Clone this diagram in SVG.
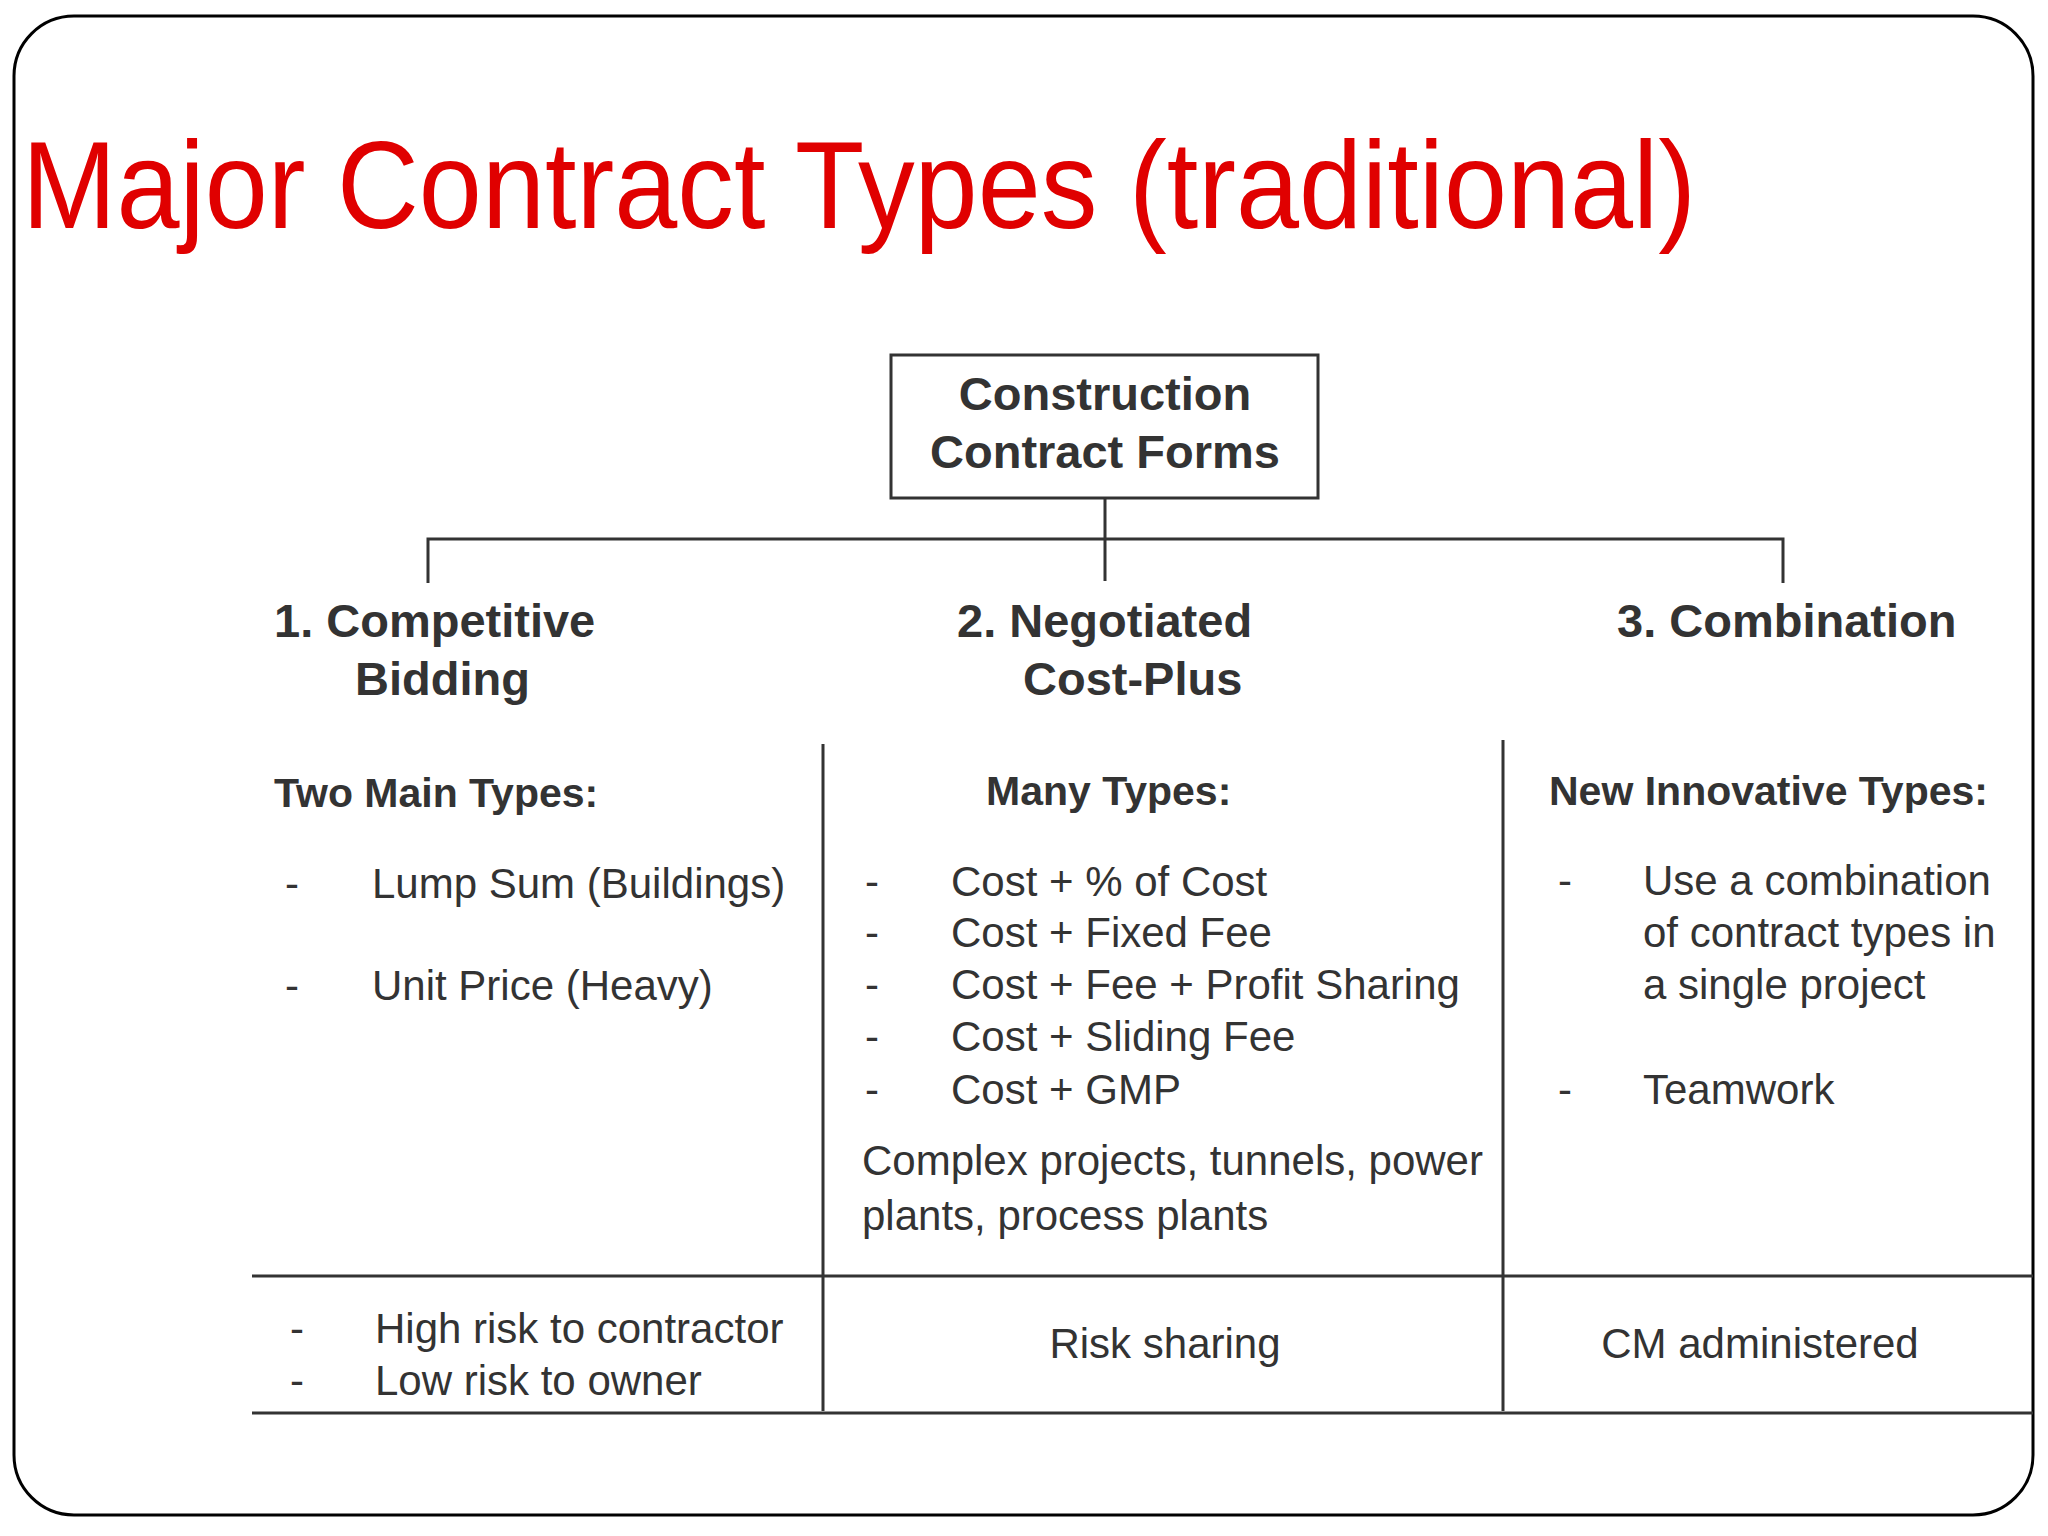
<svg xmlns="http://www.w3.org/2000/svg" width="2048" height="1536" viewBox="0 0 2048 1536">
<style>
.t{font-family:"Liberation Sans",Arial,sans-serif;fill:#333}
.b{font-weight:bold;font-size:47px}
.s{font-weight:bold;font-size:41px}
.n{font-size:42px}
.ln{stroke:#333;stroke-width:3;fill:none}
</style>
<rect x="0" y="0" width="2048" height="1536" fill="#fff"/>
<rect x="14" y="16" width="2019" height="1499" rx="60" fill="none" stroke="#000" stroke-width="3"/>
<text x="22" y="228" font-family="Liberation Sans,Arial,sans-serif" font-size="124" fill="#e00000" textLength="1674" lengthAdjust="spacingAndGlyphs">Major Contract Types (traditional)</text>
<g id="root">
<rect x="891" y="355" width="427" height="143" fill="#fff" stroke="#333" stroke-width="3"/>
<text class="t b" x="1105" y="410" text-anchor="middle">Construction</text>
<text class="t b" x="1105" y="468" text-anchor="middle">Contract Forms</text>
</g>
<g id="connectors">
<path class="ln" d="M1105 498V581M428 583V539H1783V583"/>
<path class="ln" d="M823 744V1411M1503 740V1411M252 1276H2033M252 1413H2033"/>
</g>
<g id="col1">
<text class="t b" x="274" y="637">1. Competitive</text>
<text class="t b" x="355" y="695">Bidding</text>
<text class="t s" x="274" y="807">Two Main Types:</text>
<text class="t n" x="285" y="898">-</text><text class="t n" x="372" y="898">Lump Sum (Buildings)</text>
<text class="t n" x="285" y="1000">-</text><text class="t n" x="372" y="1000">Unit Price (Heavy)</text>
<text class="t n" x="290" y="1343">-</text><text class="t n" x="375" y="1343">High risk to contractor</text>
<text class="t n" x="290" y="1395">-</text><text class="t n" x="375" y="1395">Low risk to owner</text>
</g>
<g id="col2">
<text class="t b" x="957" y="637">2. Negotiated</text>
<text class="t b" x="1023" y="695">Cost-Plus</text>
<text class="t s" x="986" y="805">Many Types:</text>
<text class="t n" x="865" y="896">-</text><text class="t n" x="951" y="896">Cost + % of Cost</text>
<text class="t n" x="865" y="947">-</text><text class="t n" x="951" y="947">Cost + Fixed Fee</text>
<text class="t n" x="865" y="999">-</text><text class="t n" x="951" y="999">Cost + Fee + Profit Sharing</text>
<text class="t n" x="865" y="1051">-</text><text class="t n" x="951" y="1051">Cost + Sliding Fee</text>
<text class="t n" x="865" y="1104">-</text><text class="t n" x="951" y="1104">Cost + GMP</text>
<text class="t n" x="862" y="1175">Complex projects, tunnels, power</text>
<text class="t n" x="862" y="1230">plants, process plants</text>
<text class="t n" x="1165" y="1358" text-anchor="middle">Risk sharing</text>
</g>
<g id="col3">
<text class="t b" x="1617" y="637">3. Combination</text>
<text class="t s" x="1549" y="805">New Innovative Types:</text>
<text class="t n" x="1558" y="895">-</text><text class="t n" x="1643" y="895">Use a combination</text>
<text class="t n" x="1643" y="947">of contract types in</text>
<text class="t n" x="1643" y="999">a single project</text>
<text class="t n" x="1558" y="1104">-</text><text class="t n" x="1643" y="1104">Teamwork</text>
<text class="t n" x="1760" y="1358" text-anchor="middle">CM administered</text>
</g>
</svg>
